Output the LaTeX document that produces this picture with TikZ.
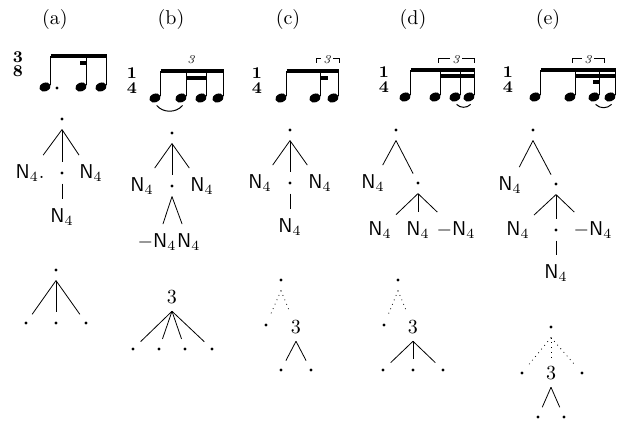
\documentclass[tikz,border=0pt]{standalone}
\usetikzlibrary{shapes.geometric,positioning}
\newcommand{\nq}{\textsf{N}$_4$}
\newcommand{\mnq}{$-$\textsf{N}$_4$}
\begin{document}
\begin{tikzpicture}[x=0.5pt,y=-0.5pt,
    tdot/.style={circle,fill,inner sep=0pt,minimum size=1.6pt,outer sep=4.5pt},
    lab/.style={inner xsep=2pt,inner ysep=4.5pt,text height=7pt,text depth=1.5pt},
    num/.style={inner sep=3.5pt},
    head/.style={ellipse,fill,inner sep=0pt,minimum width=5.8pt,minimum height=4.3pt,rotate=20},
    stem/.style={line width=0.5pt},
    beam/.style={line width=2pt},
    tsig/.style={inner sep=0pt,font=\fontsize{8.2}{9}\selectfont\bfseries},
    tup/.style={inner sep=1pt,font=\fontsize{6}{7}\selectfont\itshape},
    brk/.style={line width=0.4pt},
    tie/.style={line width=0.5pt}]
      \useasboundingbox (0,0) rectangle (618,421);
      \node (ha) at (55,20) {(a)};
      \node (hb) at (171,20) {(b)};
      \node (hc) at (288,20) {(c)};
      \node (hd) at (413,20) {(d)};
      \node (he) at (548,20) {(e)};

      \node[tsig] (sa1) at (18,57.5) {3};
      \node[tsig] (sa2) at (18,71.5) {8};
      \coordinate (ba) at (0,56);
      \coordinate (ba2) at (0,63);
      \node[head] (ma1) at (45,87) {};
      \node[head] (ma2) at (81,87) {};
      \node[head] (ma3) at (101,87) {};
      \fill (57,88) circle[radius=0.8pt];
      \draw[stem] (ma1.east) -- (ma1.east |- ba);
      \draw[stem] (ma2.east) -- (ma2.east |- ba);
      \draw[stem] (ma3.east) -- (ma3.east |- ba);
      \draw[beam] (ma1.east |- ba) -- (ma3.east |- ba);
      \draw[beam] (ma2.east |- ba2) -- ++(-7,0);

      \node[tsig] (sb1) at (132,73.5) {1};
      \node[tsig] (sb2) at (132,88) {4};
      \coordinate (bb) at (0,71);
      \coordinate (bb2) at (0,78);
      \node[head] (mb1) at (155,98) {};
      \node[head] (mb2) at (181,98) {};
      \node[head] (mb3) at (201,98) {};
      \node[head] (mb4) at (218,98) {};
      \draw[stem] (mb1.east) -- (mb1.east |- bb);
      \draw[stem] (mb2.east) -- (mb2.east |- bb);
      \draw[stem] (mb3.east) -- (mb3.east |- bb);
      \draw[stem] (mb4.east) -- (mb4.east |- bb);
      \draw[beam] (mb1.east |- bb) -- (mb4.east |- bb);
      \draw[beam] (mb2.east |- bb2) -- (mb3.east |- bb2);
      \node[tup] (nb) at (191,60) {3};
      \draw[tie] ([yshift=-1.5pt]mb1.south) to[bend right=50] ([yshift=-1.5pt]mb2.south);

      \node[tsig] (sc1) at (257,73.5) {1};
      \node[tsig] (sc2) at (257,88) {4};
      \node[head] (mc1) at (281,98) {};
      \node[head] (mc2) at (315,98) {};
      \node[head] (mc3) at (333,98) {};
      \draw[stem] (mc1.east) -- (mc1.east |- bb);
      \draw[stem] (mc2.east) -- (mc2.east |- bb);
      \draw[stem] (mc3.east) -- (mc3.east |- bb);
      \draw[beam] (mc1.east |- bb) -- (mc3.east |- bb);
      \draw[beam] (mc2.east |- bb2) -- ++(7,0);
      \node[tup] (nc) at (327,60) {3};
      \draw[brk] (nc.west) ++(0,-2) -- ++(-5,0) -- ++(0,5);
      \draw[brk] (nc.east) ++(0,-2) -- ++(6,0) -- ++(0,5);

      \node[tsig] (sd1) at (384,72.5) {1};
      \node[tsig] (sd2) at (384,87) {4};
      \coordinate (bd) at (0,70);
      \coordinate (bd2) at (0,76);
      \coordinate (bd3) at (0,82);
      \node[head] (md1) at (405,97) {};
      \node[head] (md2) at (435,97) {};
      \node[head] (md3) at (455,97) {};
      \node[head] (md4) at (469,97) {};
      \draw[stem] (md1.east) -- (md1.east |- bd);
      \draw[stem] (md2.east) -- (md2.east |- bd);
      \draw[stem] (md3.east) -- (md3.east |- bd);
      \draw[stem] (md4.east) -- (md4.east |- bd);
      \draw[beam] (md1.east |- bd) -- (md4.east |- bd);
      \draw[beam] (md2.east |- bd2) -- (md4.east |- bd2);
      \node[tup] (nd) at (456,60) {3};
      \draw[brk] (nd.west) ++(0,-2) -- ++(-12,0) -- ++(0,5);
      \draw[brk] (nd.east) ++(0,-2) -- ++(12,0) -- ++(0,5);
      \draw[tie] ([yshift=-1.5pt]md3.south) to[bend right=45] ([yshift=-1.5pt]md4.south);

      \node[tsig] (se1) at (508,72.5) {1};
      \node[tsig] (se2) at (508,87) {4};
      \node[head] (me1) at (535,97) {};
      \node[head] (me2) at (570,97) {};
      \node[head] (me3) at (594,97) {};
      \node[head] (me4) at (610,97) {};
      \draw[stem] (me1.east) -- (me1.east |- bd);
      \draw[stem] (me2.east) -- (me2.east |- bd);
      \draw[stem] (me3.east) -- (me3.east |- bd);
      \draw[stem] (me4.east) -- (me4.east |- bd);
      \draw[beam] (me1.east |- bd) -- (me4.east |- bd);
      \draw[beam] (me2.east |- bd2) -- (me4.east |- bd2);
      \draw[beam] (me3.east |- bd3) -- ++(-7,0);
      \node[tup] (ne) at (588,60) {3};
      \draw[brk] (ne.west) ++(0,-2) -- ++(-10,0) -- ++(0,5);
      \draw[brk] (ne.east) ++(0,-2) -- ++(10,0) -- ++(0,5);
      \draw[tie] ([yshift=-1.5pt]me3.south) to[bend right=45] ([yshift=-1.5pt]me4.south);

      \node[tdot] (ta0) at (62,119) {};
      \node[lab] (ta1) at (30,173) {\nq.};
      \node[tdot] (ta2) at (62,173) {};
      \node[lab] (ta3) at (91,173) {\nq};
      \node[lab] (ta4) at (62,217) {\nq};
      \draw (ta0.south) -- (ta1);
      \draw (ta0.south) -- (ta2);
      \draw (ta0.south) -- (ta3);
      \draw (ta2.south) -- (ta4);

      \node[tdot] (tb0) at (172,133) {};
      \node[lab] (tb1) at (142,186) {\nq};
      \node[tdot] (tb2) at (172,186) {};
      \node[lab] (tb3) at (202,186) {\nq};
      \node[lab] (tb4) at (157,242) {\mnq};
      \node[lab,right=-4pt of tb4] (tb5) {\nq};
      \draw (tb0.south) -- (tb1);
      \draw (tb0.south) -- (tb2);
      \draw (tb0.south) -- (tb3);
      \draw (tb2.south) -- (tb4);
      \draw (tb2.south) -- (tb5);

      \node[tdot] (tc0) at (290,130) {};
      \node[lab] (tc1) at (260,183) {\nq};
      \node[tdot] (tc2) at (290,183) {};
      \node[lab] (tc3) at (320,183) {\nq};
      \node[lab] (tc4) at (290,227) {\nq};
      \draw (tc0.south) -- (tc1);
      \draw (tc0.south) -- (tc2);
      \draw (tc0.south) -- (tc3);
      \draw (tc2.south) -- (tc4);

      \node[tdot] (td0) at (396,130) {};
      \node[lab] (td1) at (373,183) {\nq};
      \node[tdot] (td2) at (418,183) {};
      \node[lab] (td3) at (380,230) {\nq};
      \node[lab] (td4) at (418,230) {\nq};
      \node[lab] (td5) at (456,230) {\mnq};
      \draw (td0.south) -- (td1);
      \draw (td0.south) -- (td2);
      \draw (td2.south) -- (td3);
      \draw (td2.south) -- (td4);
      \draw (td2.south) -- (td5);

      \node[tdot] (te0) at (533,130) {};
      \node[lab] (te1) at (510,185) {\nq};
      \node[tdot] (te2) at (556,184) {};
      \node[lab] (te3) at (518,230) {\nq};
      \node[tdot] (te4) at (556,230) {};
      \node[lab] (te5) at (593,230) {\mnq};
      \node[lab] (te6) at (556,273) {\nq};
      \draw (te0.south) -- (te1);
      \draw (te0.south) -- (te2);
      \draw (te2.south) -- (te3);
      \draw (te2.south) -- (te4);
      \draw (te2.south) -- (te5);
      \draw (te4.south) -- (te6);

      \node[tdot] (ua0) at (56,270) {};
      \node[tdot] (ua1) at (26,323) {};
      \node[tdot] (ua2) at (56,323) {};
      \node[tdot] (ua3) at (86,323) {};
      \draw (ua0.south) -- (ua1);
      \draw (ua0.south) -- (ua2);
      \draw (ua0.south) -- (ua3);

      \node[num] (ub0) at (172,297) {3};
      \node[tdot] (ub1) at (133,349) {};
      \node[tdot] (ub2) at (159,349) {};
      \node[tdot] (ub3) at (185,349) {};
      \node[tdot] (ub4) at (212,349) {};
      \draw (ub0.south) -- (ub1);
      \draw (ub0.south) -- (ub2);
      \draw (ub0.south) -- (ub3);
      \draw (ub0.south) -- (ub4);

      \node[tdot] (uc0) at (281,280) {};
      \node[tdot] (uc1) at (266,325) {};
      \node[num] (uc2) at (296,327) {3};
      \node[tdot] (uc3) at (281,370) {};
      \node[tdot] (uc4) at (311,370) {};
      \draw[dotted] (uc0.south) -- (uc1);
      \draw[dotted] (uc0.south) -- (uc2);
      \draw (uc2.south) -- (uc3);
      \draw (uc2.south) -- (uc4);

      \node[tdot] (ud0) at (398,280) {};
      \node[tdot] (ud1) at (384,325) {};
      \node[num] (ud2) at (413,327) {3};
      \node[tdot] (ud3) at (383,370) {};
      \node[tdot] (ud4) at (413,370) {};
      \node[tdot] (ud5) at (443,370) {};
      \draw[dotted] (ud0.south) -- (ud1);
      \draw[dotted] (ud0.south) -- (ud2);
      \draw (ud2.south) -- (ud3);
      \draw (ud2.south) -- (ud4);
      \draw (ud2.south) -- (ud5);

      \node[tdot] (ue0) at (551,327) {};
      \node[tdot] (ue1) at (522,373) {};
      \node[num] (ue2) at (551,373) {3};
      \node[tdot] (ue3) at (582,373) {};
      \node[tdot] (ue4) at (538,417) {};
      \node[tdot] (ue5) at (564,417) {};
      \draw[dotted] (ue0.south) -- (ue1);
      \draw[dotted] (ue0.south) -- (ue2);
      \draw[dotted] (ue0.south) -- (ue3);
      \draw (ue2.south) -- (ue4);
      \draw (ue2.south) -- (ue5);
    \end{tikzpicture}
\end{document}
